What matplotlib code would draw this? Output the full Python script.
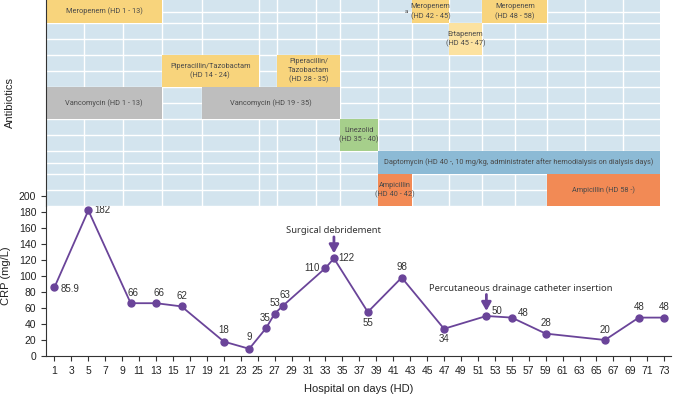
import matplotlib
matplotlib.use("Agg")
import matplotlib.pyplot as plt
from matplotlib.patches import Rectangle

# ---------------- data ----------------
days = [1, 5, 10, 13, 16, 21, 24, 26, 27, 28, 33, 34, 38, 42, 47, 52, 55, 59, 66, 70, 73]
crp = [85.9, 182, 66, 66, 62, 18, 9, 35, 53, 63, 110, 122, 55, 98, 34, 50, 48, 28, 20, 48, 48]
crp_labels = ["85.9", "182", "66", "66", "62", "18", "9", "35", "53", "63", "110", "122",
              "55", "98", "34", "50", "48", "28", "20", "48", "48"]
xticks = list(range(1, 74, 2))
yticks = list(range(0, 201, 20))

# antibiotic lanes (top to bottom)
lanes = ["Meropenem", "Ertapenem", "Piperacillin/Tazobactam", "Vancomycin",
         "Linezolid", "Daptomycin", "Ampicillin"]
# column edges of the schematic table (in hospital-day axis units)
col_edges = [0, 4.5, 9.1, 13.7, 18.4, 25.1, 27.3, 31.9, 34.7, 39.2, 43.2, 47.6,
             51.5, 55.4, 59.2, 63.6, 68.1, 72.5]
# bars: (lane, start, end, label, colour key)
bars = [
    ("Meropenem", 0, 13.7, "Meropenem (HD 1 - 13)", "yellow"),
    ("Meropenem", 43.2, 47.6, "Meropenem\n(HD 42 - 45)", "yellow"),
    ("Meropenem", 51.5, 59.2, "Meropenem\n(HD 48 - 58)", "yellow"),
    ("Ertapenem", 47.6, 51.5, "Ertapenem\n(HD 45 - 47)", "lightyellow"),
    ("Piperacillin/Tazobactam", 13.7, 25.1, "Piperacillin/Tazobactam\n(HD 14 - 24)", "yellow"),
    ("Piperacillin/Tazobactam", 27.3, 34.7, "Piperacillin/\nTazobactam\n(HD 28 - 35)", "yellow"),
    ("Vancomycin", 0, 13.7, "Vancomycin (HD 1 - 13)", "gray"),
    ("Vancomycin", 18.4, 34.7, "Vancomycin (HD 19 - 35)", "gray"),
    ("Linezolid", 34.7, 39.2, "Linezolid\n(HD 35 - 40)", "green"),
    ("Daptomycin", 39.2, 72.5,
     "Daptomycin (HD 40 -, 10 mg/kg, administrater after hemodialysis on dialysis days)", "blue"),
    ("Ampicillin", 39.2, 43.2, "Ampicillin\n(HD 40 - 42)", "orange"),
    ("Ampicillin", 59.2, 72.5, "Ampicillin (HD 58 -)", "orange"),
]

# ---------------- style ----------------
colors = {"yellow": "#f8d47c", "lightyellow": "#fce2a0", "gray": "#bebebe",
          "green": "#a6cf8b", "blue": "#8cbad5", "orange": "#f28a55"}
bg_color = "#d3e4ee"
line_color = "#6a4499"
txt_color = "#4a4a4a"
lane_heights = [23, 32, 32, 32, 32, 23, 32]  # px, top to bottom

label_offsets = [(4.5, -1, "left"), (4, 0, "left"), (2, 7.5, "center"), (2, 7.5, "center"),
                 (0, 7.5, "center"), (0, 8, "center"), (0, 8.5, "center"), (-1, 7.5, "center"),
                 (0, 7.5, "center"), (1, 7.5, "center"), (-4, 0, "right"), (3.5, 0, "left"),
                 (0, -8, "center"), (0, 7.5, "center"), (0, -7.5, "center"), (4, 3.5, "left"),
                 (4, 3.5, "left"), (0, 7.5, "center"), (0, 7.5, "center"), (0, 7.5, "center"),
                 (0, 7.5, "center")]

W, H = 673, 395
fig = plt.figure(figsize=(W / 100, H / 100), dpi=100)
fig.patch.set_facecolor("white")

ax_l, ax_r = 46, 671
xlim = (0, 73.8)

# bottom CRP axes
ax = fig.add_axes([ax_l / W, (H - 356) / H, (ax_r - ax_l) / W, 160 / H])
ax.set_xlim(*xlim)
ax.set_ylim(0, 200)
ax.plot(days, crp, color=line_color, lw=1.3, marker="o", ms=5, zorder=3, clip_on=False)
for d, v, lab, (dx, dy, ha) in zip(days, crp, crp_labels, label_offsets):
    ax.annotate(lab, (d, v), xytext=(dx, dy), textcoords="offset points",
                ha=ha, va="center", fontsize=7, color="#333333", family="Liberation Sans")
for sp in ["top", "right"]:
    ax.spines[sp].set_visible(False)
for sp in ["left", "bottom"]:
    ax.spines[sp].set_color("#333333")
    ax.spines[sp].set_linewidth(0.8)
ax.set_xticks(xticks)
ax.set_yticks(yticks)
ax.tick_params(labelsize=7.5, length=3.5, width=0.8, color="#333333", labelcolor="#222222")
for t in ax.get_xticklabels() + ax.get_yticklabels():
    t.set_family("Liberation Sans")
ax.set_xlabel("Hospital on days (HD)", fontsize=8, family="Liberation Sans", color="#222222",
              labelpad=6)
ax.set_ylabel("CRP (mg/L)", fontsize=8, family="Liberation Sans", color="#222222", labelpad=4)
ax.yaxis.set_label_coords(-0.056, 0.5)

# event annotations
def event(day, val, text, tdx):
    ax.annotate("", xy=(day, val), xytext=(0, 15.5), textcoords="offset points",
                arrowprops=dict(arrowstyle="-|>,head_length=0.5,head_width=0.28",
                                color=line_color, lw=2, shrinkA=0, shrinkB=3.6))
    ax.annotate(text, (day, val), xytext=(tdx, 20), textcoords="offset points",
                ha="center", va="center", fontsize=6.8, color="#333333", family="Noto Sans")

event(34, 122, "Surgical debridement", 0)
event(52, 50, "Percutaneous drainage catheter insertion", 25)

# top antibiotics panel
axp = fig.add_axes([ax_l / W, (H - 206) / H, (ax_r - ax_l) / W, 206 / H], zorder=5)
axp.set_xlim(*xlim)
total_h = sum(lane_heights)
axp.set_ylim(0, total_h)
axp.axis("off")
axp.patch.set_alpha(0)
xmin, xmax = col_edges[0], col_edges[-1]
axp.add_patch(Rectangle((xmin, 0), xmax - xmin, total_h, facecolor=bg_color, lw=0, zorder=1))

lane_pos = {}
top = total_h
for name, h in zip(lanes, lane_heights):
    lane_pos[name] = (top - h, h)
    top -= h
# grid lines
for name, (y0, h) in lane_pos.items():
    for yy in (y0, y0 + h / 2):
        axp.plot([xmin, xmax], [yy, yy], color="white", lw=1, zorder=2)
for xe in col_edges[1:-1]:
    axp.plot([xe, xe], [0, total_h], color="white", lw=1, zorder=2)

for lane, s, e, lab, ck in bars:
    y0, h = lane_pos[lane]
    axp.add_patch(Rectangle((s, y0), e - s, h, facecolor=colors[ck], lw=0, zorder=3))
    axp.text((s + e) / 2, y0 + h / 2, lab, ha="center", va="center", fontsize=5.3,
             color=txt_color, family="Roboto", linespacing=1.35, zorder=4)
# footnote mark next to Meropenem (HD 42 - 45)
y0, h = lane_pos["Meropenem"]
axp.text(42.5, y0 + h / 2, "a", ha="center", va="center", fontsize=4.5,
         color=txt_color, family="Roboto", zorder=4)
# left axis line continues through the panel
axp.plot([0, 0], [0, total_h], color="#333333", lw=0.8, zorder=6, clip_on=False)

fig.text(10 / W, 1 - 103 / H, "Antibiotics", rotation=90, ha="center", va="center",
         fontsize=8, family="Liberation Sans", color="#222222")

fig.savefig("out.png", dpi=100)
